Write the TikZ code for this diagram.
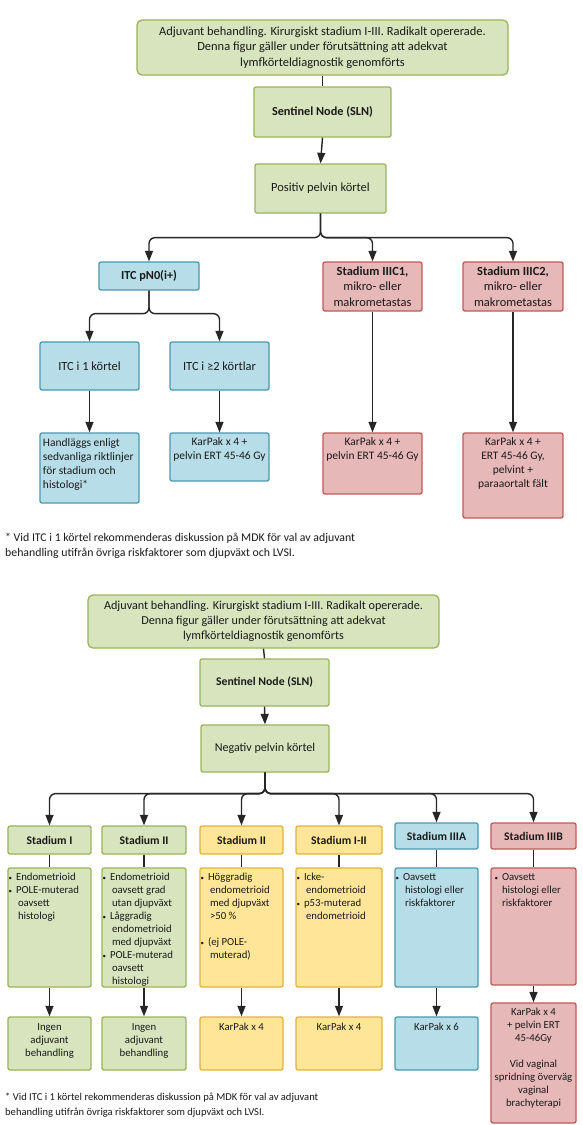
\documentclass[tikz,border=0pt]{standalone}
\usepackage{fontspec}
\setmainfont{Carlito}
\usetikzlibrary{arrows.meta}
\definecolor{gfill}{HTML}{D7E4BD}
\definecolor{gdraw}{HTML}{98B55C}
\definecolor{bfill}{HTML}{B7DEE8}
\definecolor{bdraw}{HTML}{4A98AE}
\definecolor{rfill}{HTML}{E6B9B8}
\definecolor{rdraw}{HTML}{BE5A56}
\definecolor{yfill}{HTML}{FFE597}
\definecolor{ydraw}{HTML}{E0B43C}
\definecolor{conn}{HTML}{262626}
\definecolor{txt}{HTML}{1A1A1A}
\newcommand\sz[2]{\fontsize{#1}{#2}\selectfont}
\newcommand\bitem[1]{\hspace*{-8bp}\makebox[8bp][l]{\hspace*{0.5bp}{\sz{7}{7}\textbullet}}#1}
\newcommand\cont[1]{\hspace*{2bp}#1}
% top-aligned box content: width, height, top pad, content
\newcommand\topc[4]{\parbox[c][#2][t]{#1}{\vspace*{#3}\centering #4}}
\newcommand\topl[5]{\parbox[c][#2][t]{#1}{\vspace*{#3}\raggedright\leftskip=#4 #5}}
\tikzset{
  box/.style={draw, line width=1.3bp, rounded corners=2bp, inner sep=0pt, align=center, text=txt},
  gbox/.style={box, fill=gfill, draw=gdraw},
  bbox/.style={box, fill=bfill, draw=bdraw},
  rbox/.style={box, fill=rfill, draw=rdraw},
  ybox/.style={box, fill=yfill, draw=ydraw},
  big/.style={font=\sz{12.5}{15.5}},
  bigb/.style={font=\bfseries\sz{12.3}{15.5}},
  hdr/.style={font=\bfseries\sz{11.7}{14}},
  arr/.style={draw=conn, line width=1.4bp, -{Triangle[length=10.5bp,width=8bp]}},
  ln/.style={draw=conn, line width=1.4bp},
  br/.style={arr, rounded corners=6bp},
  note/.style={anchor=west, align=left, inner sep=0pt, text=txt},
}
\begin{document}
\begin{tikzpicture}[x=1bp,y=-1bp]
\useasboundingbox[fill=white] (0,0) rectangle (583,1125);

% ---------- upper diagram ----------
\node[gbox, big, rounded corners=5bp, minimum width=371bp, minimum height=55bp] (top1) at (322.5,47.5)
  {Adjuvant behandling. Kirurgiskt stadium I-III. Radikalt opererade.\\ Denna figur gäller under förutsättning att adekvat\\ lymfkörteldiagnostik genomförts};
\node[gbox, bigb, minimum width=137bp, minimum height=50bp] (sln1) at (322.5,112) {Sentinel Node (SLN)};
\node[gbox, big, minimum width=131bp, minimum height=49bp] (pos) at (320.5,188.5) {Positiv pelvin körtel};
\node[bbox, bigb, minimum width=100bp, minimum height=28bp] (itc) at (149,276) {ITC pN0(i+)};
\node[rbox, big, minimum width=99bp, minimum height=49bp] (c1) at (372.5,286.5) {\textbf{Stadium IIIC1,}\\ mikro- eller\\ makrometastas};
\node[rbox, big, minimum width=100bp, minimum height=49bp] (c2) at (513,286.5) {\textbf{Stadium IIIC2,}\\ mikro- eller\\ makrometastas};
\node[bbox, big, minimum width=99bp, minimum height=48bp] (itc1) at (89.5,366) {ITC i 1 körtel};
\node[bbox, big, minimum width=99bp, minimum height=48bp] (itc2) at (219.5,366) {ITC i ≥2 körtlar};
\node[bbox] (hand) at (89.5,468) {\topl{99bp}{70bp}{4bp}{3bp}{\sz{11.5}{14}\strut Handläggs enligt\\ sedvanliga riktlinjer\\ för stadium och\\ histologi*}};
\node[bbox] (kp1) at (219.5,457) {\topc{99bp}{48bp}{3bp}{\sz{11.5}{14}\strut KarPak x 4 +\\ pelvin ERT 45-46 Gy}};
\node[rbox] (kp2) at (372.5,463.5) {\topc{99bp}{61bp}{3bp}{\sz{11.5}{14}\strut KarPak x 4 +\\ pelvin ERT 45-46 Gy}};
\node[rbox] (kp3) at (513,475.5) {\topc{100bp}{85bp}{3bp}{\sz{11.5}{14}\strut KarPak x 4 +\\ ERT 45-46 Gy,\\ pelvint +\\ paraaortalt fält}};
\node[note, font=\sz{11.85}{15}] (fn1) at (5,545.5) {* Vid ITC i 1 körtel rekommenderas diskussion på MDK för val av adjuvant\\ behandling utifrån övriga riskfaktorer som djupväxt och LVSI.};

\draw[ln] (top1.south) -- (sln1.north);
\draw[arr] (sln1.south) -- (pos.north);
\draw[br] (pos.south) -- ++(0,24) -| (itc.north);
\draw[br] (pos.south) -- ++(0,24) -| (c1.north);
\draw[br] (pos.south) -- ++(0,24) -| (c2.north);
\draw[br] (itc.south) -- ++(0,23) -| (itc1.north);
\draw[br] (itc.south) -- ++(0,23) -| (itc2.north);
\draw[arr] (itc1.south) -- (hand.north);
\draw[arr] (itc2.south) -- (kp1.north);
\draw[arr] (c1.south) -- (kp2.north);
\draw[arr] (c2.south) -- (kp3.north);

% ---------- lower diagram ----------
\node[gbox, font=\sz{12.2}{14.8}, rounded corners=5bp, minimum width=351bp, minimum height=53bp] (top2) at (263.5,621.5)
  {Adjuvant behandling. Kirurgiskt stadium I-III. Radikalt opererade.\\ Denna figur gäller under förutsättning att adekvat\\ lymfkörteldiagnostik genomförts};
\node[gbox, font=\bfseries\sz{11.8}{14}, minimum width=129bp, minimum height=47bp] (sln2) at (264.5,682.5) {Sentinel Node (SLN)};
\node[gbox, font=\sz{12.1}{14}, minimum width=128bp, minimum height=47bp] (neg) at (265,748.5) {Negativ pelvin körtel};

\node[gbox, hdr, minimum width=83bp, minimum height=28bp] (h1) at (49.5,840) {Stadium I};
\node[gbox, hdr, minimum width=84bp, minimum height=28bp] (h2) at (144,840) {Stadium II};
\node[ybox, hdr, minimum width=83bp, minimum height=28bp] (h3) at (241.5,840) {Stadium II};
\node[ybox, hdr, minimum width=86bp, minimum height=28bp] (h4) at (339,840) {Stadium I-II};
\node[bbox, hdr, minimum width=83bp, minimum height=26bp] (h5) at (436.5,836) {Stadium IIIA};
\node[rbox, hdr, minimum width=85bp, minimum height=26bp] (h6) at (533.5,836) {Stadium IIIB};

\node[gbox] (b1) at (49.5,927.5) {\topl{83bp}{119bp}{3.4bp}{8bp}{\sz{10.8}{13}\strut\bitem{Endometrioid}\\ \bitem{POLE-muterad}\\ \cont{oavsett}\\ \cont{histologi}}};
\node[gbox] (b2) at (144,927.5) {\topl{84bp}{119bp}{3.4bp}{8bp}{\sz{10.8}{13}\strut\bitem{Endometrioid}\\ \cont{oavsett grad}\\ \cont{utan djupväxt}\\ \bitem{Låggradig}\\ \cont{endometrioid}\\ \cont{med djupväxt}\\ \bitem{POLE-muterad}\\ \cont{oavsett}\\ \cont{histologi}}};
\node[ybox] (b3) at (241.5,927.5) {\topl{83bp}{119bp}{3.4bp}{8bp}{\sz{10.8}{13}\strut\bitem{Höggradig}\\ \cont{endometrioid}\\ \cont{med djupväxt}\\ \cont{>50 \%}\\[13bp] \bitem{(ej POLE-}\\ \cont{muterad)}}};
\node[ybox] (b4) at (339,927.5) {\topl{86bp}{119bp}{3.4bp}{8bp}{\sz{10.8}{13}\strut\bitem{Icke-}\\ \cont{endometrioid}\\ \bitem{p53-muterad}\\ \cont{endometrioid}}};
\node[bbox] (b5) at (436.5,927.5) {\topl{83bp}{119bp}{3.4bp}{8bp}{\sz{10.8}{13}\strut\bitem{Oavsett}\\ \cont{histologi eller}\\ \cont{riskfaktorer}}};
\node[rbox] (b6) at (533.5,926.5) {\topl{85bp}{117bp}{3.4bp}{11bp}{\sz{10.8}{13}\strut\bitem{Oavsett}\\ histologi eller\\ riskfaktorer}};

\node[gbox] (r1) at (49.5,1043.5) {\topc{83bp}{53bp}{4.4bp}{\sz{10.8}{13}\strut Ingen\\ adjuvant\\ behandling}};
\node[gbox] (r2) at (144,1043.5) {\topc{84bp}{53bp}{4.4bp}{\sz{10.8}{13}\strut Ingen\\ adjuvant\\ behandling}};
\node[ybox] (r3) at (241.5,1043.5) {\topc{83bp}{53bp}{4.4bp}{\sz{10.8}{13}\strut KarPak x 4}};
\node[ybox] (r4) at (339,1043.5) {\topc{86bp}{53bp}{4.4bp}{\sz{10.8}{13}\strut KarPak x 4}};
\node[bbox] (r5) at (436.5,1043.5) {\topc{83bp}{53bp}{4.4bp}{\sz{10.8}{13}\strut KarPak x 6}};
\node[rbox] (r6) at (533.5,1063) {\topc{85bp}{120bp}{3.4bp}{\sz{10.8}{13}\strut KarPak x 4\\ + pelvin ERT\\ 45-46Gy\\[13bp] Vid vaginal\\ spridning överväg\\ vaginal\\ brachyterapi}};

\node[note, font=\sz{10.6}{15.5}] (fn2) at (5,1105) {* Vid ITC i 1 körtel rekommenderas diskussion på MDK för val av adjuvant\\ behandling utifrån övriga riskfaktorer som djupväxt och LVSI.};

\draw[ln] (top2.south) -- (sln2.north);
\draw[arr] (sln2.south) -- (neg.north);
\foreach \h in {h1,h2,h3,h4,h5,h6}{
  \draw[br] (neg.south) -- ++(0,21) -| (\h.north);
}
\draw[ln] (h1.south) -- (b1.north);
\draw[ln] (h2.south) -- (b2.north);
\draw[ln] (h3.south) -- (b3.north);
\draw[ln] (h4.south) -- (b4.north);
\draw[ln] (h5.south) -- (b5.north);
\draw[ln] (h6.south) -- (b6.north);
\draw[arr] (b1.south) -- (r1.north);
\draw[arr] (b2.south) -- (r2.north);
\draw[arr] (b3.south) -- (r3.north);
\draw[arr] (b4.south) -- (r4.north);
\draw[arr] (b5.south) -- (r5.north);
\draw[arr] (b6.south) -- (r6.north);
\end{tikzpicture}
\end{document}
